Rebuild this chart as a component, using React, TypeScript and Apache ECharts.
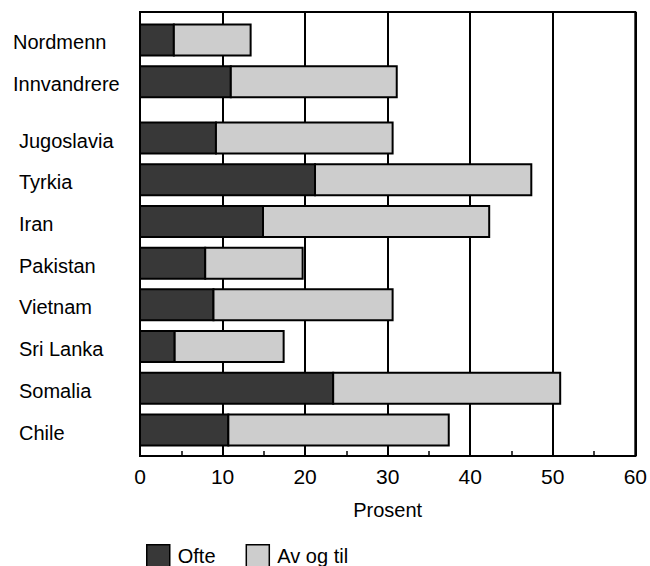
import React, { useEffect, useRef } from "react";
import * as echarts from "echarts";

const categories = ["Nordmenn", "Innvandrere", "Jugoslavia", "Tyrkia", "Iran", "Pakistan", "Vietnam", "Sri Lanka", "Somalia", "Chile"];
// row position of each category on the (hidden) vertical axis; a small gap separates the two groups
const rowPos = [0, 1, 2.35, 3.35, 4.35, 5.35, 6.35, 7.35, 8.35, 9.35];
const indented = [false, false, true, true, true, true, true, true, true, true];
const ofte = [4.1, 11.0, 9.2, 21.2, 14.9, 7.9, 8.9, 4.2, 23.4, 10.7];
const avOgTil = [9.3, 20.1, 21.4, 26.2, 27.4, 11.8, 21.7, 13.2, 27.5, 26.7];
const xTicks = [0, 10, 20, 30, 40, 50, 60];
const seriesNames = ["Ofte", "Av og til"];

const FONT = "'Liberation Sans', Arial, Helvetica, sans-serif";
const DARK = "#383838";
const LIGHT = "#cdcdcd";
const BAR_H = 31;

export default function App() {
  const ref = useRef<HTMLDivElement>(null);
  useEffect(() => {
    if (!ref.current) return;
    const chart = echarts.init(ref.current, undefined, { renderer: "svg" });

    const ofteData = categories.map((_, i) => [0, ofte[i], rowPos[i]]);
    const avData = categories.map((_, i) => [ofte[i], ofte[i] + avOgTil[i], rowPos[i]]);

    const renderItem = (params: any, api: any) => {
      const start = api.value(0);
      const end = api.value(1);
      const pos = api.value(2);
      const p0 = api.coord([start, pos]);
      const p1 = api.coord([end, pos]);
      return {
        type: "rect",
        shape: { x: p0[0], y: p0[1] - BAR_H / 2, width: p1[0] - p0[0], height: BAR_H },
        style: api.style({ stroke: "#000", lineWidth: 2 }),
      };
    };

    chart.setOption({
      animation: false,
      backgroundColor: "#fff",
      textStyle: { fontFamily: FONT, color: "#000" },
      grid: {
        left: 140,
        right: 11,
        top: 12,
        bottom: 110,
        show: true,
        borderColor: "#000",
        borderWidth: 2,
        backgroundColor: "transparent",
      },
      legend: {
        left: 141,
        top: 539,
        itemWidth: 23,
        itemHeight: 22,
        itemGap: 30,
        icon: "rect",
        data: seriesNames,
        textStyle: { fontFamily: FONT, fontSize: 20, color: "#000", padding: [0, 0, 0, 3] },
        itemStyle: { borderColor: "#000", borderWidth: 1.5 },
      },
      xAxis: {
        type: "value",
        min: xTicks[0],
        max: xTicks[xTicks.length - 1],
        interval: 10,
        name: "Prosent",
        nameLocation: "middle",
        nameGap: 44,
        nameTextStyle: { fontFamily: FONT, fontSize: 20, color: "#000" },
        axisLine: { show: true, onZero: false, lineStyle: { color: "#000", width: 2 } },
        axisTick: { show: true, inside: true, length: 5, lineStyle: { color: "#000", width: 1.5 } },
        minorTick: { show: true, splitNumber: 2, length: 5, lineStyle: { color: "#000", width: 1.5 } },
        axisLabel: { fontFamily: FONT, fontSize: 21, color: "#000", margin: 10 },
        splitLine: { show: true, lineStyle: { color: "#000", width: 2 } },
      },
      yAxis: {
        type: "value",
        inverse: true,
        min: -0.671,
        max: 9.973,
        axisLine: { show: false, onZero: false },
        axisTick: { show: false },
        splitLine: { show: false },
        axisLabel: {
          show: true,
          customValues: rowPos,
          align: "left",
          margin: 127,
          padding: [5, 0, 0, 0],
          fontFamily: FONT,
          fontSize: 20,
          color: "#000",
          formatter: (v: number) => {
            const i = rowPos.findIndex((p) => Math.abs(p - v) < 1e-6);
            if (i < 0) return "";
            return indented[i] ? `{c|${categories[i]}}` : `{g|${categories[i]}}`;
          },
          rich: {
            g: { fontFamily: FONT, fontSize: 20, color: "#000" },
            c: { fontFamily: FONT, fontSize: 20, color: "#000", padding: [0, 0, 0, 6] },
          },
        },
      },
      series: [
        {
          name: seriesNames[0],
          type: "custom",
          renderItem,
          encode: { x: [0, 1], y: 2 },
          itemStyle: { color: DARK, borderColor: "#000" },
          data: ofteData,
          z: 3,
        },
        {
          name: seriesNames[1],
          type: "custom",
          renderItem,
          encode: { x: [0, 1], y: 2 },
          itemStyle: { color: LIGHT, borderColor: "#000" },
          data: avData,
          z: 3,
        },
      ],
    });
    return () => chart.dispose();
  }, []);
  return <div ref={ref} style={{ position: "fixed", left: 0, top: 0, width: 650, height: 566 }} />;
}
